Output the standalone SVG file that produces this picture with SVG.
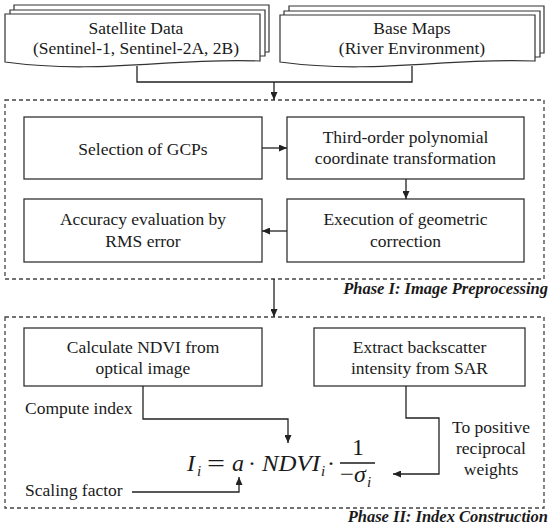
<svg xmlns="http://www.w3.org/2000/svg" width="550" height="532" viewBox="0 0 550 532">
<style>
text{font-family:'Liberation Serif','Times New Roman','DejaVu Serif','Noto Serif',serif;fill:#1a1a1a}
.sheet{fill:#fff;stroke:#333;stroke-width:1.2}
.box{fill:#fff;stroke:#333;stroke-width:1.3}
.dash{fill:none;stroke:#444;stroke-width:1.3;stroke-dasharray:4 3}
.conn{fill:none;stroke:#222;stroke-width:1.3}
.t{font-size:17.5px;text-anchor:middle}
.ts{font-size:17.5px}
.lab{font-weight:bold;font-style:italic;font-size:16.5px;text-anchor:end}
.m{font-style:italic;font-size:24px}
.mu{font-size:24px}
.sub{font-style:italic;font-size:15px}
</style>
<defs>
<marker id="ah" markerUnits="userSpaceOnUse" markerWidth="8" markerHeight="7" refX="8" refY="3.5" orient="auto">
<path d="M0,0 L8,3.5 L0,7 z" fill="#222"/>
</marker>
</defs>

<g id="satellite">
<path class="sheet" d="M14,10 V5 H269 V52 H265"/>
<path class="sheet" d="M10,14 V10 H265 V56 H260"/>
<path class="sheet" d="M5,14 H260 V61 C175,57 100,75 5,62 Z"/>
<text class="t" x="136" y="34">Satellite Data</text>
<text class="t" x="136" y="54">(Sentinel-1, Sentinel-2A, 2B)</text>
</g>

<g id="basemaps">
<path class="sheet" d="M289,11 V6 H544 V53 H540"/>
<path class="sheet" d="M284,15 V11 H540 V57 H535"/>
<path class="sheet" d="M280,15 H535 V61 C450,57 375,75 280,62 Z"/>
<text class="t" x="412" y="34">Base Maps</text>
<text class="t" x="412" y="54">(River Environment)</text>
</g>

<g id="phase1">
<rect class="dash" x="5" y="100" width="539" height="179"/>
<text class="lab" x="548" y="294">Phase I: Image Preprocessing</text>
</g>

<g id="gcp">
<rect class="box" x="24" y="117" width="238" height="62"/>
<text class="t" x="143" y="155">Selection of GCPs</text>
</g>
<g id="poly">
<rect class="box" x="287" y="117" width="237" height="62"/>
<text class="t" x="405.5" y="143">Third-order polynomial</text>
<text class="t" x="405.5" y="164">coordinate transformation</text>
</g>
<g id="accuracy">
<rect class="box" x="24" y="199" width="238" height="63"/>
<text class="t" x="143" y="225">Accuracy evaluation by</text>
<text class="t" x="143" y="247">RMS error</text>
</g>
<g id="execution">
<rect class="box" x="287" y="199" width="237" height="63"/>
<text class="t" x="405.5" y="225">Execution of geometric</text>
<text class="t" x="405.5" y="247">correction</text>
</g>

<g id="phase2">
<rect class="dash" x="5" y="317" width="539" height="191"/>
<text class="lab" x="548" y="522">Phase II: Index Construction</text>
</g>

<g id="ndvi">
<rect class="box" x="24" y="328" width="238" height="58"/>
<text class="t" x="143" y="353">Calculate NDVI from</text>
<text class="t" x="143" y="374">optical image</text>
</g>
<g id="sar">
<rect class="box" x="314" y="328" width="211" height="58"/>
<text class="t" x="419.5" y="353">Extract backscatter</text>
<text class="t" x="419.5" y="374">intensity from SAR</text>
</g>

<g id="formula">
<text class="m" x="187" y="471">I</text>
<text class="sub" x="197" y="476">i</text>
<text class="mu" x="207" y="471" textLength="18" lengthAdjust="spacingAndGlyphs">=</text>
<text class="m" x="232" y="471">a</text>
<text class="mu" x="252" y="471" text-anchor="middle">·</text>
<text class="m" x="262" y="471" textLength="58" lengthAdjust="spacingAndGlyphs">NDVI</text>
<text class="sub" x="321" y="476">i</text>
<text class="mu" x="331" y="471" text-anchor="middle">·</text>
<line x1="340" y1="463" x2="375" y2="463" stroke="#1a1a1a" stroke-width="1.3"/>
<text class="mu" x="358" y="455" text-anchor="middle">1</text>
<text class="mu" x="340" y="482" textLength="14" lengthAdjust="spacingAndGlyphs">−</text>
<text class="m" x="354" y="482">σ</text>
<text class="sub" x="367" y="487">i</text>
</g>

<g id="labels">
<text class="ts" x="25" y="414">Compute index</text>
<text class="ts" x="25" y="496">Scaling factor</text>
<text class="t" x="491" y="433">To positive</text>
<text class="t" x="491" y="454">reciprocal</text>
<text class="t" x="491" y="475">weights</text>
</g>

<g id="connectors">
<path class="conn" d="M137,66 V82 H274"/>
<path class="conn" d="M412,66 V82 H274"/>
<path class="conn" d="M274,82 V100" marker-end="url(#ah)"/>
<path class="conn" d="M262,148 H287" marker-end="url(#ah)"/>
<path class="conn" d="M406,179 V199" marker-end="url(#ah)"/>
<path class="conn" d="M287,231 H262" marker-end="url(#ah)"/>
<path class="conn" d="M274,279 V317" marker-end="url(#ah)"/>
<path class="conn" d="M143,386 V419 H288 V443" marker-end="url(#ah)"/>
<path class="conn" d="M406,386 V418 H439 V474 H393" marker-end="url(#ah)"/>
<path class="conn" d="M132,492 H239 V477" marker-end="url(#ah)"/>
</g>
</svg>
